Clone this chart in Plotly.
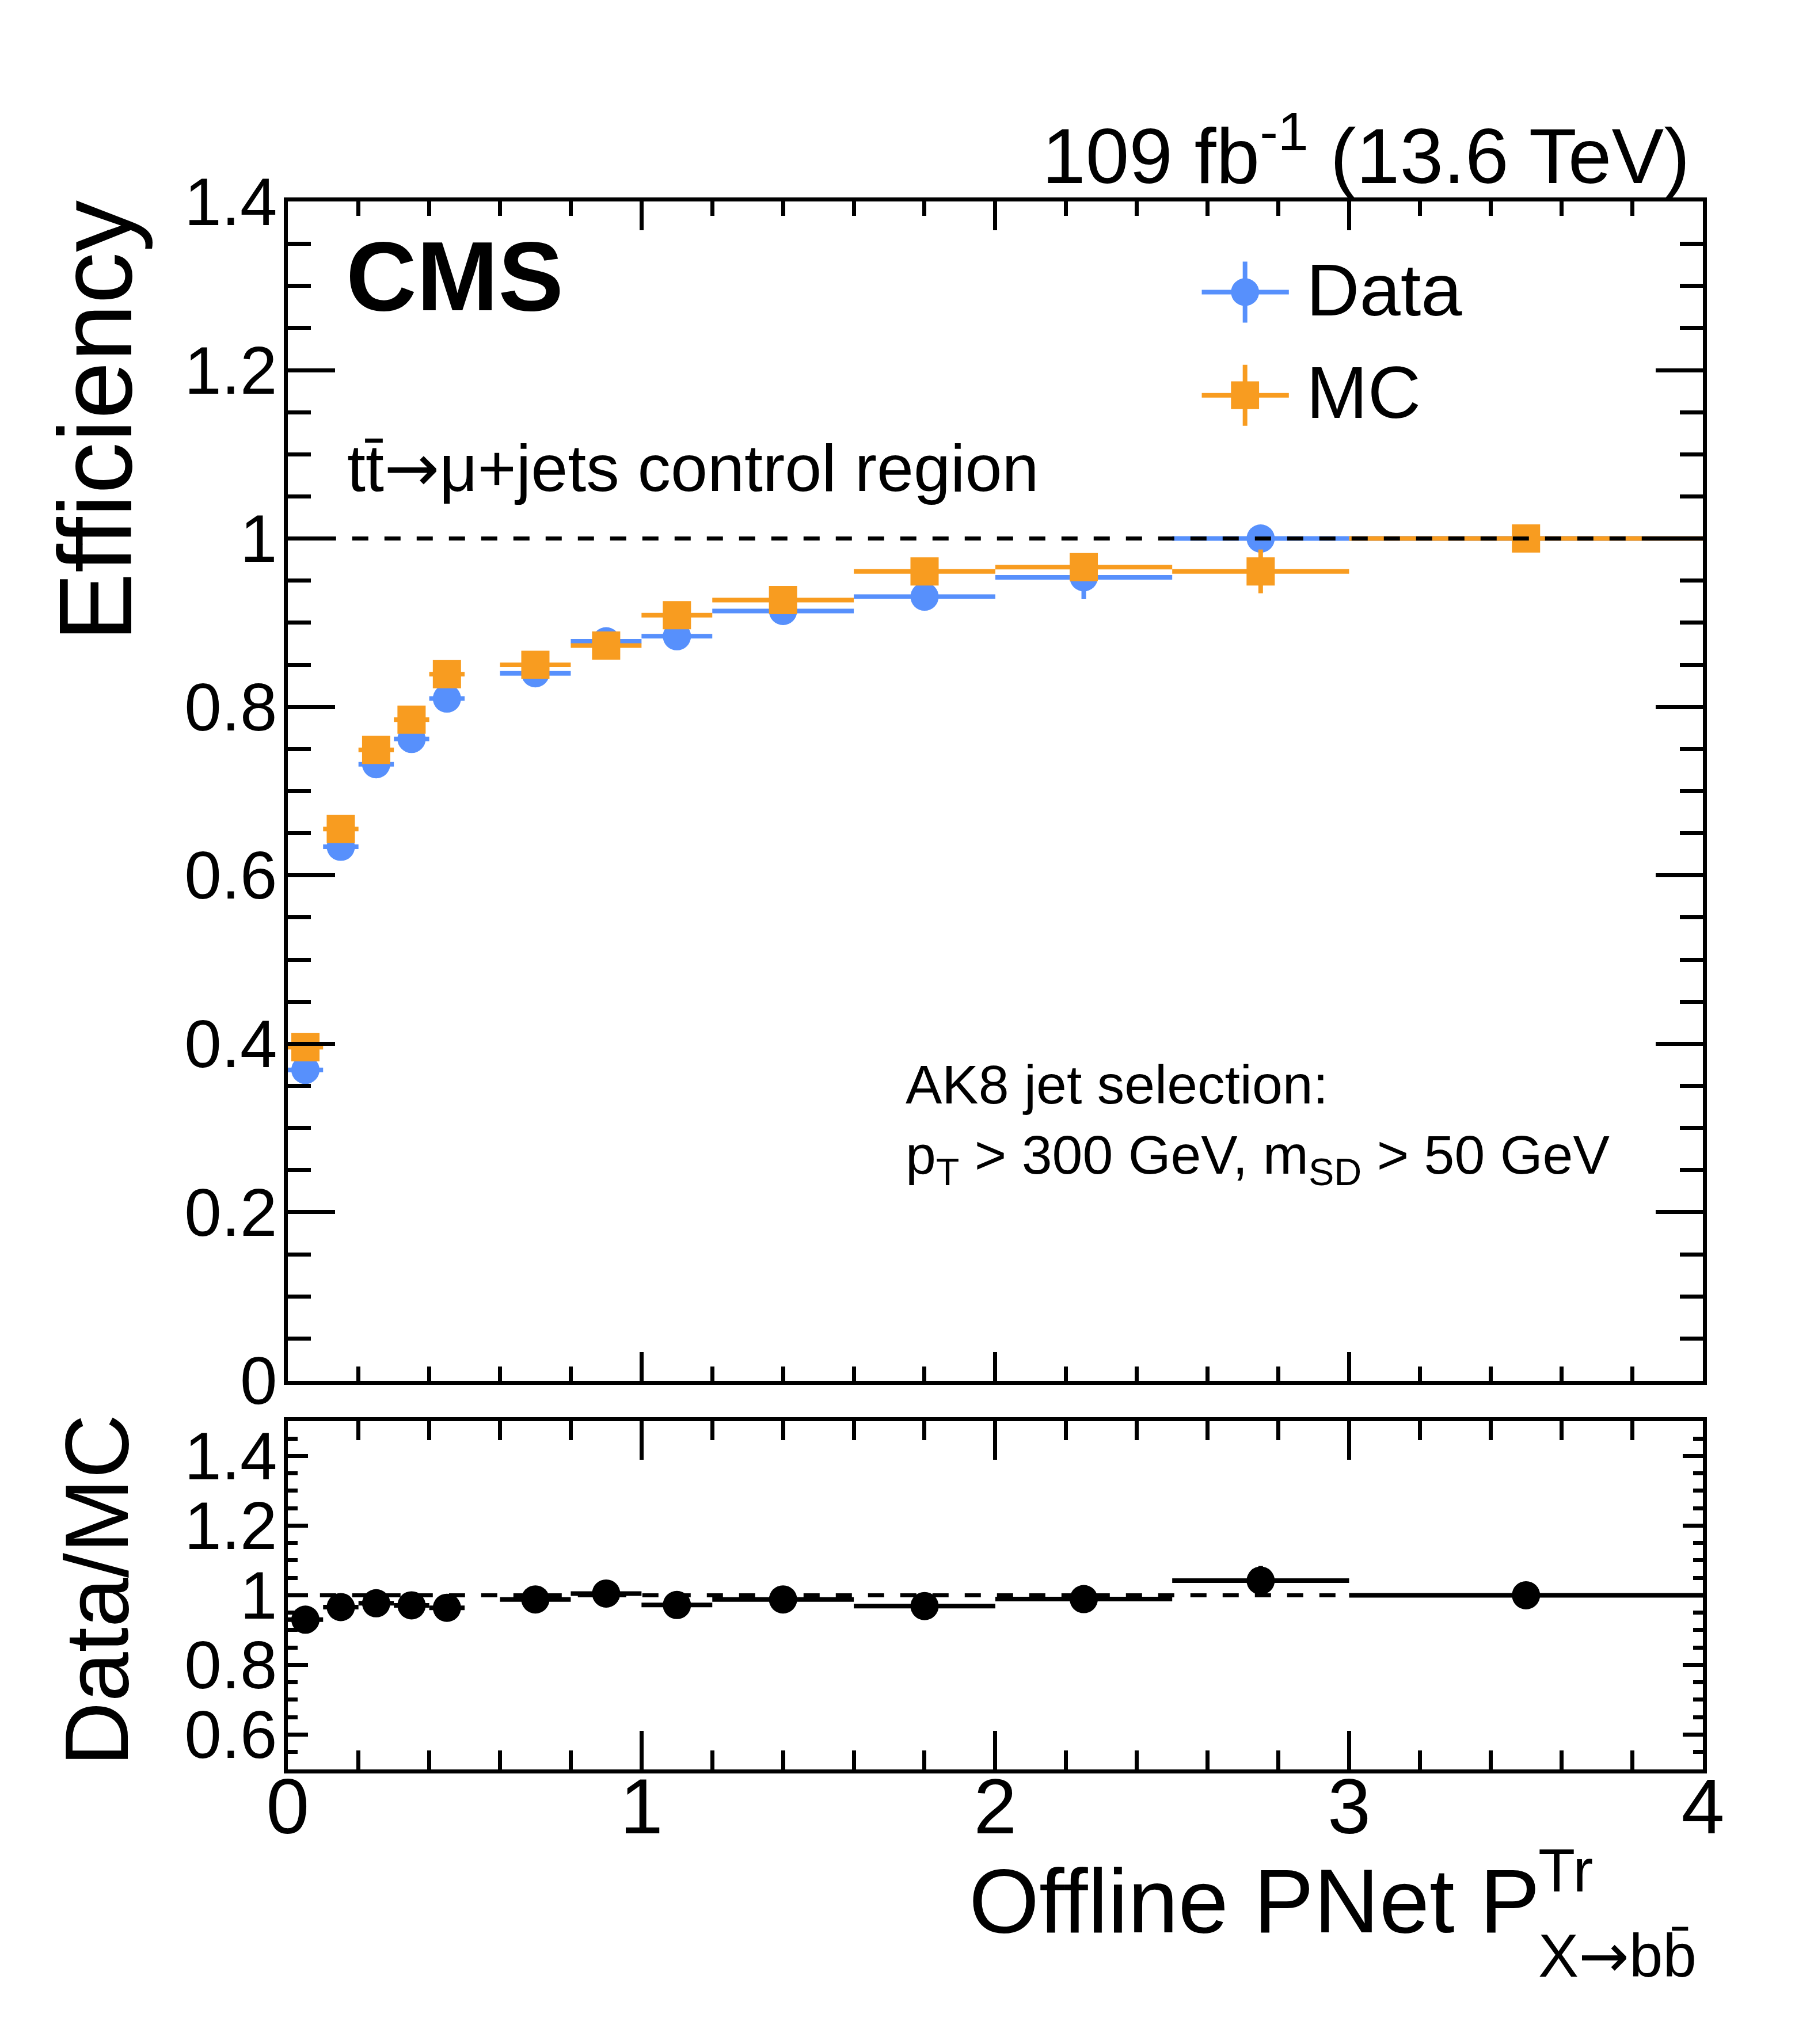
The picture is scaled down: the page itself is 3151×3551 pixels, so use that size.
import plotly.graph_objects as go

# ---------------- data ----------------
x_centers = [0.05, 0.15, 0.25, 0.35, 0.45, 0.7, 0.9, 1.1, 1.4, 1.8, 2.25, 2.75, 3.5]
x_halfwidth = [0.05, 0.05, 0.05, 0.05, 0.05, 0.1, 0.1, 0.1, 0.2, 0.2, 0.25, 0.25, 0.5]

data_eff = [0.369, 0.634, 0.732, 0.762, 0.810, 0.840, 0.878, 0.884, 0.914, 0.931, 0.954, 1.000, 1.000]
data_err_up = [0.006, 0.006, 0.006, 0.006, 0.006, 0.006, 0.008, 0.008, 0.008, 0.010, 0.026, 0.000, 0.000]
data_err_dn = [0.006, 0.006, 0.006, 0.006, 0.006, 0.006, 0.008, 0.008, 0.008, 0.010, 0.026, 0.012, 0.010]

mc_eff = [0.396, 0.655, 0.749, 0.785, 0.839, 0.850, 0.873, 0.909, 0.927, 0.961, 0.966, 0.961, 1.000]
mc_err_up = [0.004, 0.004, 0.004, 0.004, 0.004, 0.005, 0.006, 0.006, 0.006, 0.008, 0.012, 0.026, 0.000]
mc_err_dn = [0.004, 0.004, 0.004, 0.004, 0.004, 0.005, 0.006, 0.006, 0.006, 0.008, 0.012, 0.026, 0.010]

ratio = [0.930, 0.966, 0.977, 0.971, 0.964, 0.988, 1.005, 0.972, 0.988, 0.969, 0.989, 1.042, 1.000]
ratio_err = [0.015, 0.012, 0.012, 0.012, 0.012, 0.012, 0.014, 0.014, 0.014, 0.016, 0.030, 0.042, 0.012]

reference_level = 1.0

# ---------------- style ----------------
W, H = 3151, 3551
OFF = 8  # default page body margin
BLUE = "#5790fc"
ORANGE = "#f89c20"
FONT = "Liberation Sans, Arial, Helvetica, sans-serif"
ARROW = '<span style="font-family:DejaVu Sans">\u2192</span>'


def X(px):
    return (px - OFF) / W


def Y(py):
    return 1 - (py - OFF) / H


fig = go.Figure()

fig.add_trace(go.Scatter(
    x=x_centers, y=data_eff, mode="markers", name="Data",
    marker=dict(symbol="circle", size=49, color=BLUE, line=dict(width=0)),
    error_x=dict(type="data", array=x_halfwidth, color=BLUE, thickness=8, width=0),
    error_y=dict(type="data", array=data_err_up, arrayminus=data_err_dn, color=BLUE, thickness=8, width=0),
    xaxis="x", yaxis="y", showlegend=False, cliponaxis=True,
))
fig.add_trace(go.Scatter(
    x=x_centers, y=mc_eff, mode="markers", name="MC",
    marker=dict(symbol="square", size=49, color=ORANGE, line=dict(width=0)),
    error_x=dict(type="data", array=x_halfwidth, color=ORANGE, thickness=8, width=0),
    error_y=dict(type="data", array=mc_err_up, arrayminus=mc_err_dn, color=ORANGE, thickness=8, width=0),
    xaxis="x", yaxis="y", showlegend=False, cliponaxis=True,
))
fig.add_trace(go.Scatter(
    x=x_centers, y=ratio, mode="markers", name="Data/MC",
    marker=dict(symbol="circle", size=49, color="black", line=dict(width=0)),
    error_x=dict(type="data", array=x_halfwidth, color="black", thickness=8, width=0),
    error_y=dict(type="data", array=ratio_err, color="black", thickness=8, width=0),
    xaxis="x2", yaxis="y2", showlegend=False, cliponaxis=True,
))

axis_common = dict(
    showline=True, linewidth=7, linecolor="black", mirror="ticks",
    ticks="inside", tickwidth=7, tickcolor="black",
    showgrid=False, zeroline=False,
    tickfont=dict(family=FONT, size=116, color="black"),
)

xdom = [X(473), X(2992)]
fig.update_layout(
    width=W, height=H, autosize=False,
    margin=dict(l=0, r=0, t=0, b=0),
    paper_bgcolor="white", plot_bgcolor="white",
    font=dict(family=FONT, color="black"),
    xaxis=dict(axis_common, domain=xdom, anchor="y", range=[0, 4], dtick=1, tick0=0,
               ticklen=50, showticklabels=False,
               minor=dict(dtick=0.2, ticklen=25, tickwidth=7, tickcolor="black", ticks="inside")),
    yaxis=dict(axis_common, domain=[Y(2423), Y(297)], anchor="x", range=[0, 1.4], dtick=0.2, tick0=0,
               ticklen=82, ticklabelstandoff=-12,
               minor=dict(dtick=0.05, ticklen=40, tickwidth=7, tickcolor="black", ticks="inside")),
    xaxis2=dict(axis_common, domain=xdom, anchor="y2", range=[0, 4], dtick=1, tick0=0,
                ticklen=67, ticklabelstandoff=-58,
                tickfont=dict(family=FONT, size=135, color="black"),
                minor=dict(dtick=0.2, ticklen=33, tickwidth=7, tickcolor="black", ticks="inside")),
    yaxis2=dict(axis_common, domain=[Y(3124), Y(2496)], anchor="x2", range=[0.5, 1.5], dtick=0.2, tick0=0,
                ticklen=35, ticklabelstandoff=-12,
                minor=dict(dtick=0.05, ticklen=17, tickwidth=7, tickcolor="black", ticks="inside")),
)

# reference lines at 1
fig.add_shape(type="line", xref="x", yref="y", x0=0, x1=4, y0=reference_level, y1=reference_level,
              line=dict(color="black", width=7, dash="28px,28px"), layer="above")
fig.add_shape(type="line", xref="x2", yref="y2", x0=0, x1=4, y0=reference_level, y1=reference_level,
              line=dict(color="black", width=7, dash="28px,28px"), layer="above")


# ---------------- legend (drawn) ----------------
def legend_entry(cy, ty, color, symbol, label):
    cx = 2177
    fig.add_shape(type="line", xref="paper", yref="paper", x0=X(2100), x1=X(2255), y0=Y(cy), y1=Y(cy),
                  line=dict(color=color, width=8))
    fig.add_shape(type="line", xref="paper", yref="paper", x0=X(cx), x1=X(cx), y0=Y(cy - 55), y1=Y(cy + 55),
                  line=dict(color=color, width=8))
    r = 25
    fig.add_shape(type=symbol, xref="paper", yref="paper", x0=X(cx - r), x1=X(cx + r),
                  y0=Y(cy + r), y1=Y(cy - r), fillcolor=color, line=dict(width=0))
    fig.add_annotation(text=label, xref="paper", yref="paper", x=X(2285), y=Y(ty),
                       xanchor="left", yanchor="middle", showarrow=False, borderpad=0,
                       font=dict(family=FONT, size=128, color="black"))


legend_entry(460, 456, BLUE, "circle", "Data")
legend_entry(646, 641, ORANGE, "rect", "MC")


# ---------------- texts ----------------
def note(text, x, y, size, xanchor="left", yanchor="middle", angle=0, bold=False):
    fig.add_annotation(text=("<b>%s</b>" % text) if bold else text, xref="paper", yref="paper",
                       x=X(x), y=Y(y), xanchor=xanchor, yanchor=yanchor, showarrow=False,
                       borderpad=0, textangle=angle,
                       font=dict(family=FONT, size=size, color="black"))


note("109 fb<sup>-1</sup> (13.6 TeV)", 2970, 294, 136, xanchor="right", yanchor="bottom")
note("CMS", 576, 431, 170, bold=True)
note("tt\u0304" + ARROW + "\u03bc+jets control region", 578, 777, 115)
note("AK8 jet selection:", 1572, 1889, 95)
note("p<sub>T</sub> > 300 GeV, m<sub>SD</sub> > 50 GeV", 1572, 1959, 95, yanchor="top")
note("Efficiency", 130, 294, 180, xanchor="center", yanchor="top", angle=-90)
note("Data/MC", 133, 2482, 155, xanchor="center", yanchor="top", angle=-90)
note("Offline PNet P", 2703, 3361, 157, xanchor="right")
note("Tr", 2698, 3306, 105)
note("X" + ARROW + "bb\u0304", 2698, 3460, 105)

fig.write_html("out.html")
